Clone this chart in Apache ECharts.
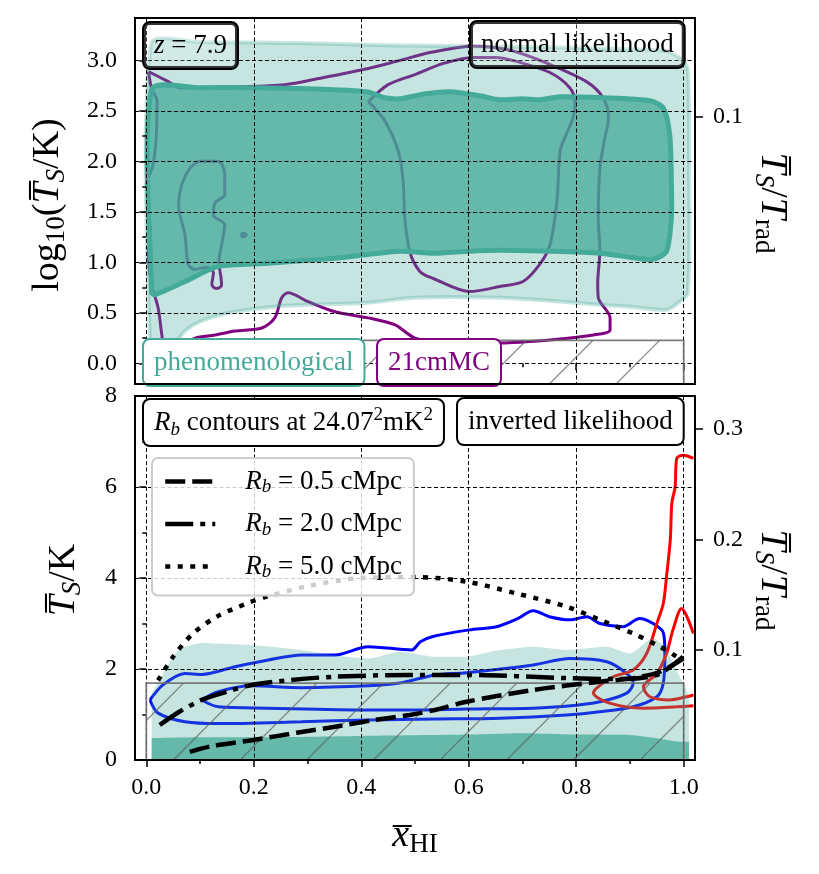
<!DOCTYPE html>
<html>
<head>
<meta charset="utf-8">
<script src="https://cdn.jsdelivr.net/npm/echarts@6/dist/echarts.min.js"></script>
<style>
  html, body { margin: 0; padding: 0; background: #fff; }
  #chart { width: 819px; height: 874px; }
</style>
</head>
<body>
<div id="chart"></div>
<script>
const SERIF = '"Liberation Serif", "DejaVu Serif", serif';
const TEAL = '#44aa99';
const PURPLE = '#800080';
const T_RAD = 24.25;      // K, so that Ts/Trad = 0.1 sits at Ts = 2.4 K
const HATCH_T = 1.69;     // K, upper edge of the excluded (hatched) region

// axes
const xRange = [-0.021, 1.021];
const xMajor = [0, 0.2, 0.4, 0.6, 0.8, 1.0];
const xMinor = [0.1, 0.3, 0.5, 0.7, 0.9];
const logRange = [-0.205, 3.42];
const logMajor = [0, 0.5, 1, 1.5, 2, 2.5, 3];
const logMinor = [0.25, 0.75, 1.25, 1.75, 2.25, 2.75, 3.25];
const ratioTopTicks = [2.442];
const ratioTopLabels = ['0.1'];
const tsRange = [0, 8];
const tsMajor = [0, 2, 4, 6, 8];
const tsMinor = [1, 3, 5, 7];
const ratioTicks = [0.1, 0.2, 0.3];

// ---- top panel: log10(Ts/K) vs xHI ----
const phenoOuter = [
  [0.009, 3.17], [0.1, 3.18], [0.3, 3.17], [0.45, 3.15], [0.6, 3.14], [0.75, 3.13], [0.9, 3.11],
  [0.968, 3.09], [0.999, 3.0], [1.008, 2.9], [1.01, 2.0], [1.008, 0.7], [0.99, 0.6], [0.968, 0.53],
  [0.9, 0.56], [0.844, 0.58], [0.75, 0.62], [0.658, 0.65], [0.5, 0.65], [0.413, 0.6], [0.3, 0.58],
  [0.258, 0.57], [0.165, 0.51], [0.103, 0.42], [0.072, 0.32], [0.055, 0.2], [0.04, 0.05],
  [0.03, -0.12], [0.009, -0.12]
];
const phenoInner = [
  [0.01, 2.71], [0.1, 2.73], [0.2, 2.73], [0.3, 2.72], [0.41, 2.69], [0.444, 2.63], [0.472, 2.62],
  [0.52, 2.67], [0.565, 2.69], [0.62, 2.65], [0.658, 2.61], [0.7, 2.62], [0.732, 2.61], [0.77, 2.64],
  [0.85, 2.63], [0.937, 2.6], [0.962, 2.53], [0.974, 2.26], [0.977, 1.8], [0.977, 1.44], [0.968, 1.11],
  [0.943, 1.03], [0.9, 1.05], [0.844, 1.09], [0.751, 1.11], [0.658, 1.12], [0.6, 1.11], [0.534, 1.09],
  [0.472, 1.11], [0.4, 1.07], [0.351, 1.04], [0.3, 1.02], [0.227, 0.99], [0.134, 0.96], [0.072, 0.81],
  [0.016, 0.68], [0.01, 0.7]
];
const mcmcOuter = [
  [0.004, 2.89], [0.041, 2.79], [0.063, 2.73], [0.165, 2.74], [0.258, 2.76], [0.32, 2.82], [0.413, 2.92],
  [0.472, 3.0], [0.53, 3.08], [0.608, 3.14], [0.677, 3.1], [0.751, 2.96], [0.819, 2.79], [0.85, 2.63],
  [0.86, 2.43], [0.852, 2.2], [0.844, 1.93], [0.841, 1.44], [0.844, 1.11], [0.84, 0.8], [0.841, 0.65],
  [0.863, 0.45], [0.863, 0.33], [0.832, 0.28], [0.751, 0.23], [0.658, 0.2], [0.55, 0.22], [0.5, 0.25],
  [0.463, 0.38], [0.413, 0.45], [0.351, 0.51], [0.301, 0.61], [0.264, 0.7], [0.252, 0.65], [0.239, 0.45],
  [0.215, 0.35], [0.165, 0.32], [0.128, 0.28], [0.091, 0.25], [0.06, 0.16], [0.035, 0.12], [0.029, 0.28],
  [0.022, 0.55], [0.01, 0.78], [0.004, 1.08], [0.008, 1.3], [0.003, 1.5], [0.004, 1.83], [0.012, 1.95],
  [0.018, 2.2], [0.02, 2.6], [0.01, 2.72], [0.004, 2.89]
];
const mcmcInner = [
  [0.413, 2.59], [0.45, 2.76], [0.5, 2.86], [0.553, 2.97], [0.608, 3.03], [0.65, 3.03], [0.689, 2.99],
  [0.751, 2.88], [0.788, 2.73], [0.798, 2.59], [0.794, 2.43], [0.78, 2.25], [0.77, 2.1], [0.764, 1.6],
  [0.751, 1.17], [0.732, 0.98], [0.701, 0.81], [0.658, 0.76], [0.602, 0.71], [0.534, 0.84], [0.509, 0.91],
  [0.49, 1.11], [0.481, 1.44], [0.478, 1.8], [0.469, 2.1], [0.444, 2.4], [0.419, 2.56], [0.413, 2.59]
];
const mcmcIsland = [
  [0.097, 2.0], [0.134, 2.0], [0.146, 1.87], [0.146, 1.67], [0.128, 1.59], [0.125, 1.47], [0.146, 1.37],
  [0.14, 1.17], [0.135, 1.0], [0.139, 0.85], [0.14, 0.77], [0.13, 0.74], [0.122, 0.78], [0.125, 0.9],
  [0.113, 0.95], [0.09, 0.93], [0.078, 0.98], [0.072, 1.27], [0.06, 1.57], [0.066, 1.77], [0.081, 1.93],
  [0.097, 2.0]
];
const mcmcDot = [[0.176, 1.27], [0.18, 1.29], [0.186, 1.27], [0.18, 1.25], [0.176, 1.27]];

// ---- bottom panel: Ts/K vs xHI ----
const phenoBandOuter = [
  [0.01, 1.46], [0.035, 1.98], [0.06, 2.42], [0.103, 2.57], [0.15, 2.55], [0.196, 2.53], [0.289, 2.42],
  [0.35, 2.3], [0.413, 2.23], [0.472, 2.38], [0.537, 2.27], [0.596, 2.27], [0.65, 2.4], [0.72, 2.49],
  [0.782, 2.42], [0.857, 2.49], [0.9, 2.34], [0.943, 2.68], [0.968, 2.42], [0.985, 2.0], [0.999, 1.69],
  [1.01, 1.4]
];
const phenoBandInner = [
  [0.01, 0.48], [0.1, 0.5], [0.2, 0.5], [0.4, 0.53], [0.6, 0.56], [0.7, 0.59], [0.8, 0.56], [0.9, 0.55],
  [0.95, 0.48], [0.98, 0.42], [1.0, 0.4], [1.01, 0.4]
];
const blueOuter = [
  [0.007, 1.32], [0.031, 1.65], [0.072, 1.9], [0.103, 1.88], [0.165, 2.05], [0.227, 2.2], [0.289, 2.31],
  [0.351, 2.31], [0.413, 2.49], [0.494, 2.42], [0.51, 2.6], [0.535, 2.72], [0.601, 2.86], [0.652, 2.93],
  [0.69, 3.1], [0.72, 3.28], [0.75, 3.15], [0.788, 3.08], [0.82, 3.15], [0.844, 3.0], [0.887, 2.93],
  [0.918, 3.11], [0.943, 3.0], [0.962, 2.8], [0.965, 2.34], [0.962, 1.69], [0.95, 1.39], [0.906, 1.17],
  [0.844, 1.06], [0.782, 0.99], [0.658, 0.92], [0.537, 0.9], [0.413, 0.88], [0.289, 0.84], [0.134, 0.8],
  [0.072, 0.84], [0.022, 1.03], [0.007, 1.32]
];
const blueInner = [
  [0.103, 1.32], [0.134, 1.5], [0.196, 1.63], [0.289, 1.59], [0.413, 1.63], [0.472, 1.69], [0.537, 1.87],
  [0.596, 1.92], [0.72, 2.09], [0.788, 2.23], [0.857, 2.16], [0.894, 1.9], [0.906, 1.69], [0.894, 1.47],
  [0.844, 1.28], [0.78, 1.18], [0.72, 1.14], [0.596, 1.12], [0.49, 1.1], [0.413, 1.1], [0.227, 1.14],
  [0.134, 1.17], [0.103, 1.32]
];
const redOuter = [
  [1.018, 6.63], [0.999, 6.7], [0.987, 6.63], [0.984, 6.0], [0.978, 5.65], [0.975, 4.84], [0.968, 4.03],
  [0.962, 3.44], [0.95, 3.0], [0.931, 2.34], [0.906, 1.98], [0.869, 1.83], [0.838, 1.58], [0.832, 1.47],
  [0.862, 1.25], [0.925, 1.14], [0.987, 1.17], [1.018, 1.19]
];
const redInner = [
  [1.018, 2.78], [0.996, 3.33], [0.98, 2.86], [0.968, 2.34], [0.95, 1.9], [0.925, 1.61], [0.937, 1.39],
  [0.974, 1.32], [1.005, 1.39], [1.018, 1.43]
];
const rb05 = [
  [0.081, 0.18], [0.12, 0.3], [0.199, 0.44], [0.28, 0.6], [0.351, 0.73], [0.42, 0.87], [0.49, 0.99],
  [0.537, 1.1], [0.596, 1.28], [0.72, 1.54], [0.844, 1.72], [0.906, 1.8], [0.956, 1.94], [0.999, 2.23]
];
const rb20 = [
  [0.025, 0.77], [0.06, 1.05], [0.103, 1.32], [0.15, 1.5], [0.196, 1.65], [0.27, 1.76], [0.351, 1.83],
  [0.49, 1.87], [0.596, 1.87], [0.782, 1.8], [0.875, 1.78], [0.92, 1.8], [0.956, 1.9], [0.999, 2.27]
];
const rb50 = [
  [0.022, 1.75], [0.05, 2.27], [0.087, 2.78], [0.131, 3.15], [0.187, 3.44], [0.224, 3.59], [0.3, 3.82],
  [0.4, 4.0], [0.503, 4.02], [0.596, 3.92], [0.689, 3.66], [0.782, 3.37], [0.844, 3.08], [0.906, 2.78],
  [0.956, 2.49], [0.987, 2.27]
];
const legendNames = { rb05: '0.5', rb20: '2.0', rb50: '5.0' };

// ---------- helpers ----------
function polygon(pts, xi, yi, z, style, smooth) {
  return {
    type: 'custom', xAxisIndex: xi, yAxisIndex: yi, z: z, silent: true, clip: true,
    data: pts,
    renderItem: function (params, api) {
      if (params.dataIndex !== 0) return null;
      return {
        type: 'polygon',
        shape: { points: pts.map(function (p) { return api.coord(p); }), smooth: smooth },
        style: style
      };
    }
  };
}

function line(name, pts, xi, yi, z, color, width, type, smooth) {
  return {
    type: 'line', name: name, xAxisIndex: xi, yAxisIndex: yi, z: z, data: pts,
    symbol: 'none', showSymbol: false, smooth: smooth, silent: true,
    itemStyle: { color: 'rgba(0,0,0,0)' },
    lineStyle: { color: color, width: width, type: type || 'solid', cap: 'butt' }
  };
}

function band(pts, opacity, z) {
  return {
    type: 'line', xAxisIndex: 2, yAxisIndex: 3, z: z, data: pts, symbol: 'none', showSymbol: false,
    smooth: 0.2, silent: true, lineStyle: { width: 0 }, areaStyle: { color: TEAL, opacity: opacity }
  };
}

// hatched '/' box, lines follow x + y = k * step in page pixels
function hatch(xi, yi, x0, y0, x1, y1) {
  return {
    type: 'custom', xAxisIndex: xi, yAxisIndex: yi, z: 6, silent: true, clip: true,
    data: [[x0, y0]],
    renderItem: function (params, api) {
      const a = api.coord([x0, y0]), b = api.coord([x1, y1]);
      const L = Math.min(a[0], b[0]), R = Math.max(a[0], b[0]);
      const T = Math.min(a[1], b[1]), B = Math.max(a[1], b[1]);
      const step = 200 / 3;
      const lines = [];
      for (let c = Math.ceil((L + T) / step) * step; c < R + B; c += step) {
        lines.push({
          type: 'line', shape: { x1: c - B, y1: B, x2: c - T, y2: T },
          style: { stroke: 'rgba(90,90,90,0.65)', lineWidth: 1.4 }
        });
      }
      return {
        type: 'group',
        children: [
          { type: 'group', children: lines,
            clipPath: { type: 'rect', shape: { x: L, y: T, width: R - L, height: B - T } } },
          { type: 'rect', shape: { x: L, y: T, width: R - L, height: B - T },
            style: { fill: null, stroke: 'rgba(110,110,110,0.9)', lineWidth: 1.8 } }
        ]
      };
    }
  };
}

const tickFont = { fontFamily: SERIF, fontSize: 24, color: '#000' };
const tickLine = { color: '#000', width: 1.5 };
const gridLine = { show: true, lineStyle: { color: '#000', width: 1, type: [4, 2.5] } };

function axis(grid, pos, range, ticks, len, opt) {
  return Object.assign({
    gridIndex: grid, type: 'value', position: pos, min: range[0], max: range[1], z: 5,
    axisLine: { show: false },
    axisTick: { show: true, customValues: ticks, length: len, lineStyle: tickLine },
    axisLabel: { show: false },
    splitLine: { show: false }
  }, opt || {});
}

// rich text pieces for titles
function richSet(size) {
  const sub = Math.round(size * 0.7);
  return {
    n: { fontFamily: SERIF, fontSize: size, fill: '#000', lineHeight: size + 6 },
    i: { fontFamily: SERIF, fontSize: size, fontStyle: 'italic', fill: '#000', lineHeight: size + 6 },
    s: { fontFamily: SERIF, fontSize: sub, fill: '#000', lineHeight: sub - 6, verticalAlign: 'bottom' },
    is: { fontFamily: SERIF, fontSize: sub, fontStyle: 'italic', fill: '#000', lineHeight: sub - 6, verticalAlign: 'bottom' },
    sup: { fontFamily: SERIF, fontSize: sub, fill: '#000', lineHeight: sub - 4, verticalAlign: 'top' }
  };
}
const R38 = richSet(38);
const R27 = richSet(27);

function title(x, y, rot, text) {
  return { type: 'text', x: x, y: y, rotation: rot, z: 40,
    style: { text: text, rich: R38, align: 'center', verticalAlign: 'middle' } };
}

function box(x, y, text, color, border, bg) {
  const rich = {};
  Object.keys(R27).forEach(function (k) { rich[k] = Object.assign({}, R27[k], { fill: color }); });
  return { type: 'text', x: x, y: y, z: 50,
    style: { text: text, rich: rich, backgroundColor: bg, borderColor: border, borderWidth: 2,
      borderRadius: 6, padding: [6, 10, 6, 10] } };
}

const OL = '\u0305';

const chart = echarts.init(document.getElementById('chart'), null, { renderer: 'canvas' });
chart.setOption({
  animation: false,
  backgroundColor: '#fff',
  grid: [
    { left: 135, top: 18, width: 560, height: 366 },
    { left: 135, top: 396, width: 560, height: 364 }
  ],
  xAxis: [
    axis(0, 'bottom', xRange, xMajor, 7, { splitLine: gridLine }),
    axis(0, 'bottom', xRange, xMinor, 4),
    axis(1, 'bottom', xRange, xMajor, 7, {
      splitLine: gridLine,
      axisLabel: Object.assign({ show: true, customValues: xMajor, margin: 16,
        formatter: function (v) { return v.toFixed(1); } }, tickFont)
    }),
    axis(1, 'bottom', xRange, xMinor, 4)
  ],
  yAxis: [
    axis(0, 'left', logRange, logMajor, 7, {
      splitLine: gridLine,
      axisLabel: Object.assign({ show: true, customValues: logMajor, margin: 18,
        formatter: function (v) { return v.toFixed(1); } }, tickFont)
    }),
    axis(0, 'left', logRange, logMinor, 4),
    axis(0, 'right', logRange, ratioTopTicks, 8, {
      axisLabel: Object.assign({ show: true, customValues: ratioTopTicks, margin: 18,
        formatter: function (v) { return ratioTopLabels[ratioTopTicks.indexOf(v)] || '0.1'; } }, tickFont)
    }),
    axis(1, 'left', tsRange, tsMajor, 7, {
      splitLine: gridLine,
      axisLabel: Object.assign({ show: true, customValues: tsMajor, margin: 18,
        formatter: function (v) { return String(v); } }, tickFont)
    }),
    axis(1, 'left', tsRange, tsMinor, 4),
    axis(1, 'right', [0, tsRange[1] / T_RAD], ratioTicks, 8, {
      axisLabel: Object.assign({ show: true, customValues: ratioTicks, margin: 18,
        formatter: function (v) { return v.toFixed(1); } }, tickFont)
    })
  ],
  legend: {
    data: ['rb05', 'rb20', 'rb50'],
    orient: 'vertical', left: 152, top: 458, z: 10,
    itemWidth: 50, itemHeight: 14, itemGap: 14,
    padding: [10, 12, 14, 11],
    backgroundColor: 'rgba(255,255,255,0.8)', borderColor: '#cccccc', borderWidth: 2, borderRadius: 6,
    selectedMode: false,
    itemStyle: { opacity: 0 },
    lineStyle: { width: 4.5, color: '#000' },
    formatter: function (name) { return '{g|}{i|R}{ib|b}{n| = ' + legendNames[name] + ' cMpc}'; },
    textStyle: {
      fontFamily: SERIF, fontSize: 27, color: '#000',
      rich: {
        g: { width: 25 },
        n: { fontFamily: SERIF, fontSize: 27, color: '#000', lineHeight: 30 },
        i: { fontFamily: SERIF, fontSize: 27, fontStyle: 'italic', color: '#000', lineHeight: 30 },
        ib: { fontFamily: SERIF, fontSize: 19, fontStyle: 'italic', color: '#000', lineHeight: 14, verticalAlign: 'bottom' }
      }
    }
  },
  series: [
    // top panel
    line('mcmcOuter', mcmcOuter, 0, 0, 1, PURPLE, 3, 'solid', 0.3),
    line('mcmcInner', mcmcInner, 0, 0, 1, PURPLE, 3, 'solid', 0.3),
    line('mcmcIsland', mcmcIsland, 0, 0, 1, PURPLE, 3, 'solid', 0.3),
    line('mcmcDot', mcmcDot, 0, 0, 1, PURPLE, 3, 'solid', 0.3),
    polygon(phenoOuter, 0, 0, 2, { fill: 'rgba(68,170,153,0.3)', stroke: 'rgba(68,170,153,0.3)', lineWidth: 4 }, 0.25),
    polygon(phenoInner, 0, 0, 3, { fill: 'rgba(68,170,153,0.75)', stroke: TEAL, lineWidth: 5 }, 0.25),
    hatch(0, 0, 0, logRange[0], 1, Math.log10(HATCH_T)),
    // bottom panel
    line('blueOuter', blueOuter, 2, 3, 1, '#0000ff', 3, 'solid', 0.3),
    line('blueInner', blueInner, 2, 3, 1, '#0000ff', 3, 'solid', 0.3),
    line('redOuter', redOuter, 2, 3, 1, '#ff0000', 3, 'solid', 0.3),
    line('redInner', redInner, 2, 3, 1, '#ff0000', 3, 'solid', 0.3),
    band(phenoBandOuter, 0.3, 2),
    band(phenoBandInner, 0.75, 3),
    hatch(2, 3, 0, 0, 1, HATCH_T),
    line('rb05', rb05, 2, 3, 7, '#000', 4.5, [20, 7], 0.3),
    line('rb20', rb20, 2, 3, 7, '#000', 4.5, [28, 7, 5, 7], 0.3),
    line('rb50', rb50, 2, 3, 7, '#000', 4.5, [5, 7.5], 0.3)
  ],
  graphic: [
    { type: 'rect', z: 100, silent: true, shape: { x: 135, y: 18, width: 560, height: 366 },
      style: { fill: null, stroke: '#000', lineWidth: 2 } },
    { type: 'rect', z: 100, silent: true, shape: { x: 135, y: 396, width: 560, height: 364 },
      style: { fill: null, stroke: '#000', lineWidth: 2 } },
    title(48, 205, Math.PI / 2, '{n|log}{s|10}{n|(}{i|T' + OL + '}{is|S}{n|/K)}'),
    title(772, 203, -Math.PI / 2, '{i|T' + OL + '}{is|S}{n|/}{i|T}{s|rad}'),
    title(64, 580, Math.PI / 2, '{i|T' + OL + '}{is|S}{n|/K}'),
    title(772, 580, -Math.PI / 2, '{i|T' + OL + '}{is|S}{n|/}{i|T}{s|rad}'),
    title(415, 836, 0, '{i|x' + OL + '}{s|HI}'),
    box(144, 23, '{i|z}{n| = 7.9}', '#000', '#000', 'rgba(255,255,255,0.2)'),
    box(471, 22, '{n|normal likelihood}', '#000', '#000', 'rgba(255,255,255,0.2)'),
    box(144, 340, '{n|phenomenological}', TEAL, TEAL, '#fff'),
    box(378, 340, '{n|21cmMC}', PURPLE, PURPLE, '#fff'),
    box(144, 400, '{i|R}{is|b}{n| contours at 24.07}{sup|2}{n|mK}{sup|2}', '#000', '#000', '#fff'),
    box(458, 399, '{n|inverted likelihood}', '#000', '#000', '#fff')
  ]
});
</script>
</body>
</html>
